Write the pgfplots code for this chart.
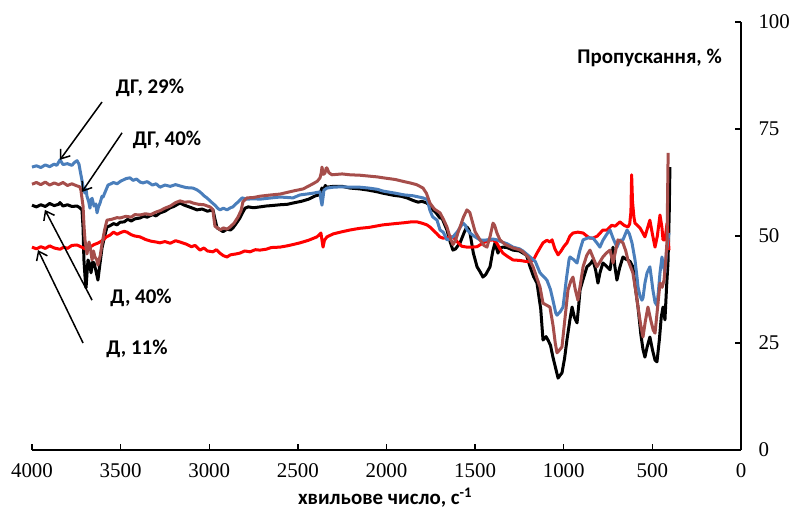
\documentclass[border=0pt]{standalone}
\usepackage{fontspec}
\setmainfont{Liberation Serif}
\newfontfamily\calb{Carlito}
\usepackage{pgfplots}
\pgfplotsset{compat=1.18}
\usetikzlibrary{arrows.meta}
\definecolor{cblue}{RGB}{74,126,187}
\definecolor{cbrown}{RGB}{166,78,75}
\definecolor{cred}{RGB}{255,0,0}

\pgfplotstableread{
wn T
4000 57.2
3975 56.8
3950 57.3
3925 56.9
3900 57.6
3875 57.1
3850 57.4
3842 57.8
3825 57.0
3800 57.3
3775 56.9
3746 57.0
3730 56.6
3718 56.1
3712 52.0
3707 44.4
3700 40.0
3695 37.9
3690 41.0
3684 44.4
3675 43.5
3667 41.4
3658 43.9
3650 43.7
3640 42.0
3628 39.7
3618 43.0
3605 47.2
3590 50.0
3577 52.1
3560 52.4
3540 52.9
3520 52.6
3504 53.2
3480 53.3
3460 53.9
3440 53.5
3420 54.0
3391 54.2
3370 54.6
3350 54.4
3320 55.0
3300 54.7
3278 55.4
3250 55.8
3220 56.6
3200 56.9
3165 57.7
3140 57.2
3120 56.9
3100 56.6
3069 56.1
3040 56.3
3010 55.8
2979 56.1
2968 54.0
2956 51.9
2940 51.5
2922 51.0
2900 51.6
2880 51.4
2866 51.9
2850 52.8
2827 54.2
2810 55.6
2798 56.5
2780 56.8
2750 56.6
2714 56.8
2680 57.0
2650 57.1
2600 57.3
2560 57.4
2528 57.7
2480 58.1
2440 58.6
2400 59.4
2380 59.6
2370 60.5
2364 61.2
2355 60.8
2345 61.8
2336 61.4
2300 61.6
2250 61.6
2206 61.2
2150 61.0
2100 60.7
2050 60.3
2020 60.0
1960 59.5
1920 59.3
1884 58.9
1850 58.3
1822 57.9
1800 58.1
1772 57.7
1755 57.0
1738 56.1
1720 55.4
1698 54.2
1687 54.2
1670 52.5
1659 51.4
1640 48.5
1625 46.7
1610 47.0
1585 48.4
1560 51.0
1546 52.1
1535 51.5
1529 50.7
1510 46.0
1489 42.8
1470 41.5
1456 40.4
1440 41.0
1416 42.8
1400 46.5
1388 48.4
1371 46.0
1360 47.2
1343 47.4
1320 47.3
1286 46.7
1250 46.5
1230 46.0
1210 45.5
1190 42.8
1170 40.5
1151 39.0
1130 33.0
1117 25.7
1100 26.5
1089 25.7
1075 24.5
1061 21.7
1045 19.0
1032 16.8
1020 17.5
1010 18.0
995 21.5
982 25.7
965 30.5
953 33.4
940 31.0
925 29.7
915 34.0
908 37.4
890 40.0
869 42.8
850 43.5
835 44.4
820 42.0
807 39.0
795 41.5
779 43.7
760 43.0
739 42.1
730 44.5
722 47.4
712 43.0
700 39.7
685 42.5
666 45.1
650 44.6
638 44.4
625 44.0
610 42.8
598 38.5
581 33.4
565 27.0
553 23.5
542 21.7
530 24.0
514 26.4
500 23.5
485 21.0
474 20.6
460 26.0
450 31.0
440 33.4
429 30.4
420 38.0
412 43.7
405 55.0
401 66.1
}\tblack

\pgfplotstableread{
wn T
4000 47.4
3975 47.0
3950 47.5
3925 47.1
3900 47.7
3875 47.2
3842 46.9
3820 47.4
3800 47.1
3775 47.8
3746 47.9
3725 47.5
3700 47.0
3685 47.6
3673 47.4
3650 48.0
3630 48.3
3616 48.6
3595 49.2
3580 49.8
3560 50.2
3540 50.9
3520 50.4
3500 50.8
3480 51.1
3464 50.9
3440 50.3
3420 50.0
3391 49.8
3360 49.2
3330 48.8
3300 48.6
3278 48.4
3250 48.7
3220 48.3
3190 48.9
3165 48.6
3130 48.1
3100 47.5
3080 47.8
3052 46.7
3030 47.2
3010 46.5
2979 46.3
2960 46.8
2940 46.0
2920 45.4
2900 45.1
2880 45.6
2850 45.8
2827 46.0
2800 46.5
2770 46.3
2740 46.8
2714 46.7
2680 46.9
2650 47.3
2601 47.4
2560 47.7
2528 48.0
2488 48.4
2440 49.0
2392 49.8
2370 50.7
2362 48.5
2358 47.4
2350 49.0
2336 49.8
2300 50.5
2250 51.0
2206 51.4
2150 51.8
2100 52.0
2020 52.6
1950 52.9
1900 53.1
1860 53.3
1828 53.3
1800 53.0
1772 52.6
1755 52.1
1738 51.4
1715 50.5
1700 49.8
1681 49.5
1660 49.6
1640 49.8
1625 49.8
1600 48.6
1575 47.6
1546 47.4
1520 47.4
1489 47.5
1450 48.5
1420 49.0
1399 49.1
1380 48.5
1360 47.0
1343 46.0
1320 45.3
1286 44.4
1250 44.3
1220 44.1
1190 44.0
1170 44.5
1151 46.0
1130 47.5
1117 48.4
1095 49.0
1078 48.6
1066 49.1
1050 47.0
1032 45.6
1015 46.5
1000 47.5
982 48.4
965 50.0
948 50.7
920 50.9
891 50.7
870 50.0
852 49.5
835 49.5
810 50.0
779 51.4
756 51.4
730 52.5
710 52.3
683 53.3
660 52.5
638 52.1
628 52.8
621 55.6
617 64.3
612 58.0
604 54.4
598 53.0
585 52.5
570 51.9
555 50.8
542 49.8
530 51.5
514 53.7
500 50.5
485 47.4
472 50.0
457 54.9
446 52.0
440 49.1
429 49.1
417 53.0
410 49.0
406 46.7
}\tred

\pgfplotstableread{
wn T
4000 66.1
3975 66.4
3950 66.0
3925 66.6
3900 66.2
3875 66.8
3860 66.5
3842 67.8
3825 66.7
3800 66.9
3775 66.5
3760 67.2
3746 67.6
3735 66.8
3729 65.4
3718 63.0
3712 61.5
3701 60.0
3695 61.0
3690 59.3
3680 58.0
3673 56.5
3667 58.5
3661 58.8
3650 57.0
3640 57.5
3633 55.4
3625 56.8
3616 57.7
3605 59.3
3599 59.1
3585 60.5
3571 61.9
3555 62.2
3540 62.5
3520 62.2
3500 62.8
3470 63.4
3447 63.6
3430 63.0
3410 63.3
3390 62.6
3374 62.4
3350 62.7
3320 61.9
3300 62.2
3278 61.4
3250 61.9
3220 61.6
3190 62.0
3165 61.7
3130 61.3
3092 61.2
3070 60.8
3052 60.3
3030 59.4
3013 58.9
2990 58.0
2968 57.2
2950 56.4
2939 56.1
2920 56.5
2900 56.1
2880 56.6
2866 56.8
2850 57.5
2838 57.9
2815 58.9
2787 58.6
2750 58.7
2714 58.6
2650 58.9
2601 59.1
2560 59.0
2528 58.9
2488 59.6
2450 59.8
2415 60.0
2390 60.2
2375 60.3
2370 58.5
2364 57.2
2358 59.0
2353 60.7
2336 61.2
2300 61.4
2250 61.5
2206 61.4
2150 61.4
2100 61.2
2050 60.9
2020 60.5
1950 60.0
1900 59.6
1850 59.4
1794 58.9
1770 58.5
1755 56.0
1740 54.5
1715 53.7
1698 51.4
1680 50.9
1659 49.1
1642 49.3
1625 49.8
1600 51.0
1585 52.0
1568 53.0
1555 52.5
1546 51.5
1529 50.7
1500 49.8
1473 49.1
1450 49.0
1433 49.1
1400 49.3
1377 49.1
1350 48.6
1320 48.2
1286 47.4
1250 47.0
1230 46.5
1190 45.1
1160 44.0
1134 41.4
1095 39.7
1075 37.5
1061 35.0
1045 32.0
1038 31.5
1020 32.3
1004 33.4
985 40.0
970 44.5
965 45.1
945 44.5
925 43.7
910 46.5
891 49.1
860 49.6
835 49.5
815 48.5
796 47.4
779 49.0
756 50.5
739 51.4
722 49.5
700 47.4
683 49.0
666 49.1
643 51.4
630 50.5
615 48.4
598 44.4
587 40.5
581 38.1
570 36.0
559 35.0
553 35.5
542 39.0
530 41.4
514 42.8
505 40.0
497 37.4
485 34.5
474 33.8
466 37.0
457 41.4
446 45.1
437 43.0
429 41.4
420 46.5
412 49.1
406 50.7
}\tblue

\pgfplotstableread{
wn T
4000 62.1
3975 62.5
3950 62.0
3925 62.6
3900 61.9
3875 62.4
3850 62.0
3825 62.5
3800 61.8
3775 62.2
3746 61.7
3730 61.5
3724 60.7
3712 57.0
3706 52.0
3701 49.1
3690 45.8
3678 48.6
3670 47.0
3661 44.4
3653 46.5
3645 45.1
3635 44.5
3628 43.2
3615 45.5
3605 48.1
3590 51.5
3577 53.7
3550 53.9
3520 54.3
3504 54.2
3470 54.6
3440 54.4
3420 55.0
3391 54.9
3360 55.2
3330 55.0
3300 55.6
3278 55.9
3250 56.5
3220 57.0
3190 57.8
3165 58.2
3140 57.9
3110 58.0
3092 57.7
3060 57.4
3030 57.3
2996 56.8
2980 56.2
2968 52.3
2950 51.8
2939 51.4
2920 51.9
2900 51.6
2883 52.1
2860 53.0
2838 54.4
2820 56.0
2810 58.0
2787 58.9
2750 59.0
2714 59.3
2650 59.6
2600 59.8
2528 60.5
2470 61.0
2415 62.2
2390 62.8
2375 63.6
2368 64.8
2364 66.1
2356 64.4
2347 64.7
2340 65.9
2336 65.9
2325 64.8
2308 64.3
2250 64.5
2206 64.3
2150 64.2
2100 64.0
2050 63.8
2020 63.6
1950 63.2
1900 62.7
1867 62.4
1830 62.0
1794 61.2
1775 60.0
1755 57.7
1730 56.3
1698 55.4
1680 54.0
1659 52.1
1640 49.5
1625 48.0
1610 49.0
1595 51.0
1585 52.1
1565 54.5
1546 56.1
1530 55.5
1518 53.7
1500 51.0
1473 49.1
1450 47.8
1433 47.4
1415 50.0
1399 53.0
1390 52.5
1377 50.7
1360 49.1
1330 48.0
1286 47.2
1250 46.8
1230 46.3
1200 45.0
1173 42.8
1150 40.0
1134 38.1
1117 34.3
1095 33.8
1078 33.4
1060 29.0
1048 25.0
1038 22.7
1025 23.3
1010 24.1
995 30.0
976 37.4
960 39.5
948 40.4
935 37.5
920 35.0
905 39.0
891 42.8
870 45.5
852 46.7
835 45.0
813 42.8
795 44.0
779 45.1
760 46.0
739 46.7
722 43.7
705 47.0
694 49.1
680 48.8
666 48.4
650 46.5
638 44.4
625 43.0
610 41.4
595 37.5
581 33.4
565 29.0
553 26.4
540 30.0
525 33.4
510 30.5
495 28.0
485 27.3
470 33.5
457 39.0
445 38.0
434 39.7
425 44.0
417 49.1
414 60.0
411 69.4
}\tbrown

\begin{document}
\begin{tikzpicture}
\useasboundingbox (-32bp,-64bp) rectangle (762bp,450bp);
\begin{axis}[
  at={(0,0)}, anchor=south west,
  scale only axis, width=709bp, height=428bp,
  xmin=0, xmax=4000, ymin=0, ymax=100,
  x dir=reverse,
  axis x line*=bottom, axis y line*=right,
  xtick={0,500,...,4000}, ytick={0,25,50,75,100},
  tick align=inside, major tick length=6bp,
  axis line style={line width=1.7bp, -},
  every tick/.style={line width=1.3bp, black},
  /pgf/number format/assume math mode=true,
  /pgf/number format/1000 sep={},
  ticklabel style={font=\fontsize{21}{24}\selectfont},
  xticklabel style={yshift=-10bp},
  yticklabel style={xshift=14bp},
  clip=false,
  every axis plot/.append style={line width=3bp, line join=round},
]
\addplot[black, no marks] table[x=wn, y=T] {\tblack};
\addplot[cred, no marks] table[x=wn, y=T] {\tred};
\addplot[cblue, no marks] table[x=wn, y=T] {\tblue};
\addplot[cbrown, no marks] table[x=wn, y=T] {\tbrown};

\begin{scope}[line width=1.5bp, -{Straight Barb[length=8bp,width=12bp]}]
\draw (axis cs:3605,81.3) -- (axis cs:3842,67.8);
\draw (axis cs:3492,74.1) -- (axis cs:3718,60.3);
\draw (axis cs:3661,35.0) -- (axis cs:3927,56.1);
\draw (axis cs:3712,25.0) -- (axis cs:3966,46.7);
\end{scope}

\begin{scope}[every node/.style={font=\calb\bfseries\fontsize{21}{24}\selectfont, inner sep=0pt}]
\node at (axis cs:3334,84.6) {ДГ, 29\%};
\node at (axis cs:3238,72.4) {ДГ, 40\%};
\node at (axis cs:3385,35.5) {Д, 40\%};
\node at (axis cs:3408,23.6) {Д, 11\%};
\node[anchor=base east] at (axis cs:107,90.2) {Пропускання, \%};
\node[anchor=base] at (axis cs:2008,-12.85) {хвильове число, с\textsuperscript{-1}};
\end{scope}
\end{axis}
\end{tikzpicture}
\end{document}
